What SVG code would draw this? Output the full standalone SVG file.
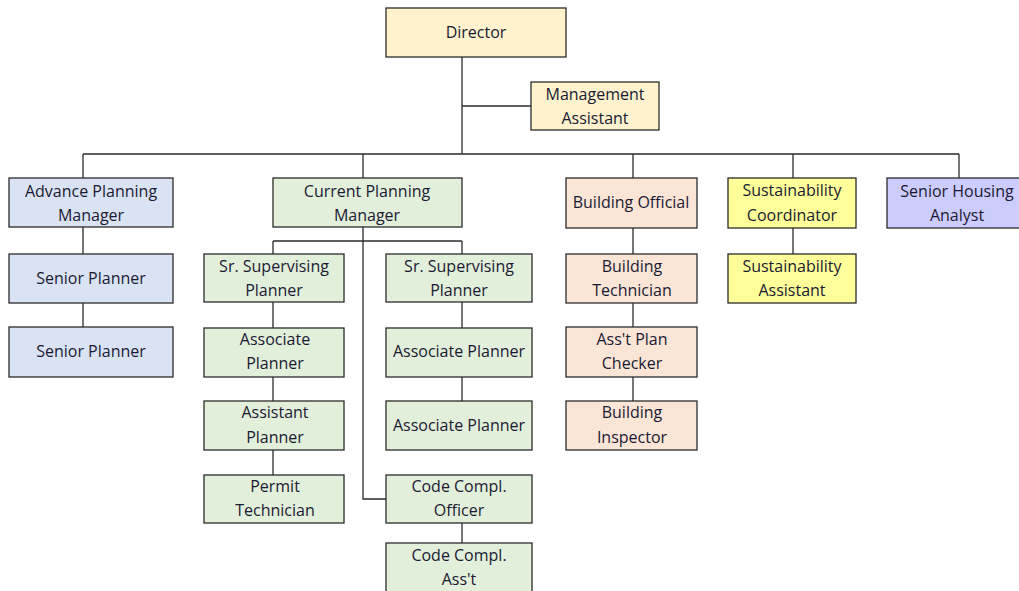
<svg xmlns="http://www.w3.org/2000/svg" width="1019" height="591" viewBox="0 0 1019 591">
<style>
rect{stroke:#2b2b2b;stroke-width:1.3}
.y{fill:#FFF2CC}.b{fill:#DAE3F3}.g{fill:#E2EFDA}.p{fill:#FBE5D6}.s{fill:#FFFF99}.l{fill:#CCCCFF}
text{font-family:"Open Sans",Lato,sans-serif;font-size:16px;fill:#1a1a33;text-anchor:middle}
#connectors path{fill:none;stroke:#2b2b2b;stroke-width:1.3}
</style>
<rect width="1019" height="591" fill="#fff" style="stroke:none"/>
<g id="connectors">
<path d="M462 57V154M462 106H531M83 154H959M83 154V178M363 154V178M633 154V178M793 154V178M959 154V178"/>
<path d="M83 227V254M83 303V327"/>
<path d="M363 227V499H386M273 241H462M273 241V254M462 241V254"/>
<path d="M273 302V328M273 377V401M273 450V475"/>
<path d="M462 302V328M462 377V401M462 523V543"/>
<path d="M633 228V254M633 303V327M633 377V401"/>
<path d="M793 228V254"/>
</g>
<g id="director"><rect class="y" x="386" y="8" width="180" height="49"/><text x="476" y="38">Director</text></g>
<g id="mgmt-assistant"><rect class="y" x="531" y="82" width="128" height="48"/><text x="595" y="100">Management</text><text x="595" y="124">Assistant</text></g>
<g id="adv-planning-mgr"><rect class="b" x="9" y="178" width="164" height="49"/><text x="91" y="197">Advance Planning</text><text x="91" y="221">Manager</text></g>
<g id="senior-planner-1"><rect class="b" x="9" y="254" width="164" height="49"/><text x="91" y="284">Senior Planner</text></g>
<g id="senior-planner-2"><rect class="b" x="9" y="327" width="164" height="50"/><text x="91" y="357">Senior Planner</text></g>
<g id="current-planning-mgr"><rect class="g" x="273" y="178" width="189" height="49"/><text x="367" y="197">Current Planning</text><text x="367" y="221">Manager</text></g>
<g id="sr-sup-planner-1"><rect class="g" x="204" y="254" width="140" height="48"/><text x="274" y="272">Sr. Supervising</text><text x="274" y="296">Planner</text></g>
<g id="associate-planner-1"><rect class="g" x="204" y="328" width="140" height="49"/><text x="275" y="345">Associate</text><text x="275" y="369">Planner</text></g>
<g id="assistant-planner"><rect class="g" x="204" y="401" width="140" height="49"/><text x="275" y="418">Assistant</text><text x="275" y="443">Planner</text></g>
<g id="permit-technician"><rect class="g" x="204" y="475" width="140" height="48"/><text x="275" y="492">Permit</text><text x="275" y="516">Technician</text></g>
<g id="sr-sup-planner-2"><rect class="g" x="386" y="254" width="146" height="48"/><text x="459" y="272">Sr. Supervising</text><text x="459" y="296">Planner</text></g>
<g id="associate-planner-2"><rect class="g" x="386" y="328" width="146" height="49"/><text x="459" y="357">Associate Planner</text></g>
<g id="associate-planner-3"><rect class="g" x="386" y="401" width="146" height="49"/><text x="459" y="431">Associate Planner</text></g>
<g id="code-compl-officer"><rect class="g" x="386" y="475" width="146" height="48"/><text x="459" y="492">Code Compl.</text><text x="459" y="516">Officer</text></g>
<g id="code-compl-asst"><rect class="g" x="386" y="543" width="146" height="60"/><text x="459" y="561">Code Compl.</text><text x="459" y="585">Ass't</text></g>
<g id="building-official"><rect class="p" x="566" y="178" width="131" height="50"/><text x="631" y="208">Building Official</text></g>
<g id="building-technician"><rect class="p" x="566" y="254" width="131" height="49"/><text x="632" y="272">Building</text><text x="632" y="296">Technician</text></g>
<g id="plan-checker"><rect class="p" x="566" y="327" width="131" height="50"/><text x="632" y="345">Ass't Plan</text><text x="632" y="369">Checker</text></g>
<g id="building-inspector"><rect class="p" x="566" y="401" width="131" height="49"/><text x="632" y="418">Building</text><text x="632" y="443">Inspector</text></g>
<g id="sustainability-coord"><rect class="s" x="728" y="178" width="128" height="50"/><text x="792" y="196">Sustainability</text><text x="792" y="221">Coordinator</text></g>
<g id="sustainability-asst"><rect class="s" x="728" y="254" width="128" height="49"/><text x="792" y="272">Sustainability</text><text x="792" y="296">Assistant</text></g>
<g id="senior-housing-analyst"><rect class="l" x="887" y="178" width="140" height="50"/><text x="957" y="197">Senior Housing</text><text x="957" y="221">Analyst</text></g>
</svg>
